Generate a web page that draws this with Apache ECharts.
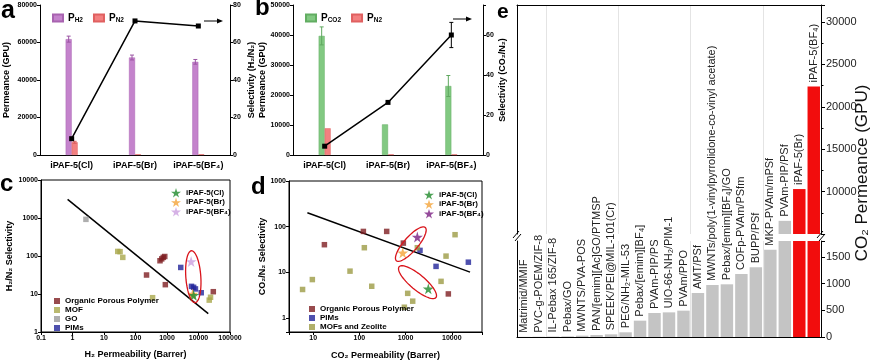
<!DOCTYPE html>
<html><head><meta charset="utf-8">
<script src="https://cdn.jsdelivr.net/npm/echarts@6/dist/echarts.min.js"></script>
<style>html,body{margin:0;padding:0;background:#fff}#c{width:880px;height:361px}</style>
</head><body><div id="c"></div>
<script>
// ---------- data ----------
const abCats = ['iPAF-5(Cl)', 'iPAF-5(Br)', 'iPAF-5(BF₄)'];
const aPH2 = [61800, 52000, 49700];
const aPH2Err = [1600, 1300, 1250];
const aPN2 = [6800, 400, 400];
const aPN2Err = [500, 0, 0];
const aSel = [8.7, 71.5, 68.8];

const bPCO2 = [39700, 10200, 23000];
const bPCO2Err = [3000, 0, 3500];
const bPN2 = [8900, 200, 200];
const bSel = [4.4, 26.3, 60];
const bSelErr = [0, 0, 6.3];

const cOPP = [[224, 31.6], [600, 75], [680, 84], [760, 92], [850, 97], [885, 17.6], [29500, 11.5]];
const cMOF = [[27.3, 132], [32.4, 130], [39.5, 92], [349, 8], [21900, 6.9], [24100, 8.2]];
const cGO = [[2.67, 922]];
const cPIM = [[2730, 50], [6000, 15.9], [7000, 15], [8000, 13.6], [12200, 10.8]];
const cStarCl = [[7000, 9.2]];
const cStarBr = [[6500, 10]];
const cStarBF4 = [[5830, 72]];
const cFit = [[0.7, 3100], [20400, 3.03]];
const cEllipse = [[6840, 28.5]];

const dOPP = [[17.5, 40.5], [122, 79], [390, 79], [894, 43.9], [8410, 3.4]];
const dPIM = [[2050, 30.4], [4560, 13.6], [22800, 16.8]];
const dMOF = [[5.9, 4.25], [9.6, 7.0], [62.7, 10.7], [128, 34.8], [185, 5.0], [1110, 3.5], [940, 1.74], [1425, 2.36], [1795, 34.8], [5850, 6.4], [7500, 22.8], [11750, 67]];
const dStarCl = [[3100, 4.4]];
const dStarBr = [[867, 27]];
const dStarBF4 = [[1795, 59.4]];
const dFit = [[7.5, 203], [24800, 10.2]];
const dEllipse = [[1297, 41.7], [1811, 6.14]];

const eCats = ['Matrimid/MMIF', 'PVC-g-POEM/ZIF-8', 'IL-Pebax 165/ZIF-8', 'Pebax/GO', 'MWNTS/PVA-POS',
  'PAN/[emim][Ac]GO/PTMSP', 'SPEEK/PEI@MIL-101(Cr)', 'PEG/NH₂-MIL-53', 'Pebax/[emim][BF₄]', 'PVAm-PIP/PS',
  'UIO-66-NH₂/PIM-1', 'PVAm/PPO', 'AMT/PSf', 'MWNTs/poly(1-vinylpyrrolidone-co-vinyl acetate)',
  'Pebax/[emim][BF₄]/GO', 'COFp-PVAm/PSfm', 'BUPP/PSf', 'MKP-PVAm/mPSf', 'PVAm-PIP/PSf', 'iPAF-5(Br)', 'iPAF-5(BF₄)'];
const eVals = [3, 5, 8, 12, 25, 37, 50, 88, 306, 450, 462, 494, 825, 975, 988, 1181, 1306, 1637, 6550, 10300, 22400];
const eLowMax = 1800, eHighMin = 5000, eHighMax = 32000;

// ---------- helpers ----------
const FONT = '"Liberation Sans", Arial, "DejaVu Sans", sans-serif';
const STAR = 'path://M50,0 L61,35 L98,35 L68,57 L79,91 L50,70 L21,91 L32,57 L2,35 L39,35 Z';
const axLine = {show: true, onZero: false, lineStyle: {color: '#000', width: 1}};
const tick = {show: true, length: 3, lineStyle: {color: '#000'}};
const lbl = {fontSize: 7, fontWeight: 'bold', color: '#000', fontFamily: FONT, margin: 3};
const nameStyle = {fontSize: 9, fontWeight: 'bold', color: '#000', fontFamily: FONT};
const plain = v => String(v);
const logLbl = v => { const l = Math.log10(v); return Math.abs(l - Math.round(l)) < 1e-6 ? String(+v.toPrecision(3)) : ''; };
const tup = (vals, errs) => vals.map((v, i) => [i, v, errs[i]]);

function errRender(offset, color) {
  return function (params, api) {
    const x = api.value(0), v = api.value(1), e = api.value(2);
    if (!e) return null;
    const c = api.coord([x, v]), hi = api.coord([x, v + e]), lo = api.coord([x, v - e]);
    const cx = c[0] + offset, st = {stroke: color, lineWidth: 1};
    return {type: 'group', children: [
      {type: 'line', shape: {x1: cx, y1: hi[1], x2: cx, y2: lo[1]}, style: st},
      {type: 'line', shape: {x1: cx - 2, y1: hi[1], x2: cx + 2, y2: hi[1]}, style: st},
      {type: 'line', shape: {x1: cx - 2, y1: lo[1], x2: cx + 2, y2: lo[1]}, style: st}
    ]};
  };
}
function ellipseRender(shapes) {
  return function (params, api) {
    const s = shapes[params.dataIndex];
    const c = api.coord([api.value(0), api.value(1)]);
    const a = s.ang * Math.PI / 180, pts = [];
    for (let i = 0; i < 60; i++) {
      const t = i / 60 * 2 * Math.PI, x = s.rx * Math.cos(t), y = s.ry * Math.sin(t);
      pts.push([c[0] + x * Math.cos(a) - y * Math.sin(a), c[1] + x * Math.sin(a) + y * Math.cos(a)]);
    }
    return {type: 'polygon', shape: {points: pts}, style: {fill: 'none', stroke: '#d9141b', lineWidth: 1.3}};
  };
}
const sq = (name, data, color, x, y) => ({type: 'scatter', name, data, xAxisIndex: x, yAxisIndex: y,
  symbol: 'rect', symbolSize: 5.5, itemStyle: {color}, z: 3});
const star = (name, data, color, x, y) => ({type: 'scatter', name, data, xAxisIndex: x, yAxisIndex: y,
  symbol: STAR, symbolSize: 11, itemStyle: {color}, z: 5});

const eUpper = eVals.map(v => v > eHighMin ? v : '-');
const eLower = eVals.map(v => v > eLowMax ? {value: v, label: {show: false}} : v);
const eColor = p => p.name.indexOf('iPAF') === 0 ? '#f20d0d' : '#c4c4c4';
const eLabel = {show: true, position: 'top', rotate: 90, align: 'left', verticalAlign: 'middle', distance: 4,
  formatter: '{b}', fontSize: 11, color: '#222', fontFamily: FONT};
const eSplit = {show: true, interval: (i) => i % 5 === 2, lineStyle: {color: '#e4e4e4', width: 1}};

const legRich = {m: {fontSize: 10, fontWeight: 'bold', fontFamily: FONT, color: '#000', lineHeight: 12},
  s: {fontSize: 6.5, fontWeight: 'bold', fontFamily: FONT, color: '#000', verticalAlign: 'bottom', lineHeight: 8}};
const smallLeg = {fontSize: 8, fontWeight: 'bold', fontFamily: FONT, color: '#000'};
const strip = n => n.replace(/^d:/, '');
const catLabel = {fontSize: 9, fontWeight: 'bold', color: '#000', fontFamily: FONT, margin: 6, interval: 0};

const option = {
  animation: false,
  backgroundColor: '#fff',
  grid: [
    {left: 40, top: 5, width: 190, height: 150},
    {left: 293, top: 5, width: 190, height: 150},
    {left: 41, top: 180, width: 189, height: 152, show: true, borderColor: '#000', borderWidth: 1},
    {left: 289, top: 181, width: 193, height: 151, show: true, borderColor: '#000', borderWidth: 1},
    {left: 517, top: 5, width: 304, height: 229},
    {left: 517, top: 241, width: 304, height: 96}
  ],
  legend: [
    {data: ['P_H2', 'P_N2'], left: 47, top: 8, itemWidth: 10, itemHeight: 7, itemGap: 10, icon: 'rect',
      formatter: n => n === 'P_H2' ? '{m|P}{s|H2}' : '{m|P}{s|N2}', textStyle: {rich: legRich}},
    {data: ['P_CO2', 'b:P_N2'], left: 300, top: 8, itemWidth: 10, itemHeight: 7, itemGap: 10, icon: 'rect',
      formatter: n => n === 'P_CO2' ? '{m|P}{s|CO2}' : '{m|P}{s|N2}', textStyle: {rich: legRich}},
    {data: ['iPAF-5(Cl)', 'iPAF-5(Br)', 'iPAF-5(BF₄)'], orient: 'vertical', left: 166, top: 183,
      itemWidth: 10, itemHeight: 10, itemGap: 0, textStyle: smallLeg},
    {data: ['Organic Porous Polymer', 'MOF', 'GO', 'PIMs'], orient: 'vertical', left: 49, top: 292,
      itemWidth: 6, itemHeight: 6, itemGap: 1, textStyle: smallLeg},
    {data: ['d:iPAF-5(Cl)', 'd:iPAF-5(Br)', 'd:iPAF-5(BF₄)'], orient: 'vertical', left: 419, top: 185,
      itemWidth: 10, itemHeight: 10, itemGap: 0, formatter: strip, textStyle: smallLeg},
    {data: ['d:Organic Porous Polymer', 'd:PIMs', 'MOFs and Zeolite'], orient: 'vertical', left: 304, top: 300,
      itemWidth: 6, itemHeight: 6, itemGap: 1, formatter: strip, textStyle: smallLeg}
  ],
  xAxis: [
    {type: 'category', gridIndex: 0, data: abCats, axisLine: axLine, axisTick: {show: false}, axisLabel: catLabel},
    {type: 'category', gridIndex: 1, data: abCats, axisLine: axLine, axisTick: {show: false}, axisLabel: catLabel},
    {type: 'log', gridIndex: 2, min: 0.1, max: 100000, axisLine: axLine, axisTick: tick, splitLine: {show: false},
      axisLabel: Object.assign({}, lbl, {formatter: logLbl}), name: 'H₂ Permeability (Barrer)', nameLocation: 'middle',
      nameGap: 18, nameTextStyle: nameStyle},
    {type: 'log', gridIndex: 3, min: 3, max: 45000, axisLine: axLine, axisTick: tick, splitLine: {show: false},
      axisLabel: Object.assign({}, lbl, {formatter: logLbl}), name: 'CO₂ Permeability (Barrer)', nameLocation: 'middle',
      nameGap: 19, nameTextStyle: nameStyle},
    {type: 'category', gridIndex: 4, data: eCats, position: 'top', axisLine: axLine, axisTick: {show: false},
      axisLabel: {show: false}, splitLine: eSplit},
    {type: 'category', gridIndex: 5, data: eCats, position: 'bottom', axisLine: axLine, axisTick: {show: false},
      axisLabel: {show: false}, splitLine: eSplit}
  ],
  yAxis: [
    {type: 'value', gridIndex: 0, min: 0, max: 80000, interval: 20000, axisLine: axLine, axisTick: tick,
      splitLine: {show: false}, axisLabel: Object.assign({}, lbl, {formatter: plain}),
      name: 'Permeance (GPU)', nameLocation: 'middle', nameGap: 29, nameRotate: 90, nameTextStyle: nameStyle},
    {type: 'value', gridIndex: 0, position: 'right', min: 0, max: 80, interval: 20, axisLine: axLine, axisTick: tick,
      splitLine: {show: false}, axisLabel: Object.assign({}, lbl, {formatter: plain}),
      name: 'Selectivity (H₂/N₂)', nameLocation: 'middle', nameGap: 17, nameRotate: 90, nameTextStyle: nameStyle},
    {type: 'value', gridIndex: 1, min: 0, max: 50000, interval: 10000, axisLine: axLine, axisTick: tick,
      splitLine: {show: false}, axisLabel: Object.assign({}, lbl, {formatter: plain}),
      name: 'Permeance (GPU)', nameLocation: 'middle', nameGap: 24, nameRotate: 90, nameTextStyle: nameStyle},
    {type: 'value', gridIndex: 1, position: 'right', min: 0, max: 75, interval: 20, axisLine: axLine, axisTick: tick,
      splitLine: {show: false}, axisLabel: Object.assign({}, lbl, {formatter: v => v % 20 === 0 ? String(v) : ''}),
      name: 'Selectivity (CO₂/N₂)', nameLocation: 'middle', nameGap: 12, nameRotate: 90, nameTextStyle: nameStyle},
    {type: 'log', gridIndex: 2, min: 1, max: 10000, axisLine: axLine, axisTick: tick, splitLine: {show: false},
      axisLabel: Object.assign({}, lbl, {formatter: logLbl}), name: 'H₂/N₂ Selectivity', nameLocation: 'middle',
      nameGap: 27, nameRotate: 90, nameTextStyle: nameStyle},
    {type: 'log', gridIndex: 3, min: 0.5, max: 1000, axisLine: axLine, axisTick: tick, splitLine: {show: false},
      axisLabel: Object.assign({}, lbl, {formatter: logLbl}), name: 'CO₂/N₂ Selectivity', nameLocation: 'middle',
      nameGap: 18, nameRotate: 90, nameTextStyle: nameStyle},
    {type: 'value', gridIndex: 4, position: 'right', min: eHighMin, max: eHighMax, interval: 5000,
      axisLine: axLine, axisTick: {show: true, length: 4, lineStyle: {color: '#000'}},
      minorTick: {show: true, splitNumber: 2, length: 2.5, lineStyle: {color: '#000'}}, splitLine: {show: false},
      axisLabel: {fontSize: 11, color: '#222', fontFamily: FONT, margin: 5,
        formatter: v => (v % 5000 === 0 && v > eHighMin) ? String(v) : ''}},
    {type: 'value', gridIndex: 5, position: 'right', min: 0, max: eLowMax, interval: 500,
      axisLine: axLine, axisTick: {show: true, length: 4, lineStyle: {color: '#000'}}, splitLine: {show: false},
      axisLabel: {fontSize: 11, color: '#222', fontFamily: FONT, margin: 5,
        formatter: v => v % 500 === 0 ? String(v) : ''}},
    {type: 'value', gridIndex: 4, position: 'left', min: 0, max: 1, axisLine: axLine, axisTick: {show: false},
      axisLabel: {show: false}, splitLine: {show: false}},
    {type: 'value', gridIndex: 5, position: 'left', min: 0, max: 1, axisLine: axLine, axisTick: {show: false},
      axisLabel: {show: false}, splitLine: {show: false}}
  ],
  series: [
    // panel a
    {type: 'bar', name: 'P_H2', data: aPH2, xAxisIndex: 0, yAxisIndex: 0, barWidth: 6, barGap: '0%',
      itemStyle: {color: '#c483cc', borderColor: '#a863b0', borderWidth: 0.5}},
    {type: 'bar', name: 'P_N2', data: aPN2, xAxisIndex: 0, yAxisIndex: 0, barWidth: 6, barGap: '0%',
      itemStyle: {color: '#f38080', borderColor: '#e06060', borderWidth: 0.5}},
    {type: 'custom', data: tup(aPH2, aPH2Err), xAxisIndex: 0, yAxisIndex: 0, renderItem: errRender(-3, '#9b55a3'), z: 4},
    {type: 'custom', data: tup(aPN2, aPN2Err), xAxisIndex: 0, yAxisIndex: 0, renderItem: errRender(3, '#d85a5a'), z: 4},
    {type: 'line', name: 'aSel', data: aSel, xAxisIndex: 0, yAxisIndex: 1, symbol: 'rect', symbolSize: 5,
      lineStyle: {color: '#000', width: 1.5}, itemStyle: {color: '#000'}, z: 5},
    // panel b
    {type: 'bar', name: 'P_CO2', data: bPCO2, xAxisIndex: 1, yAxisIndex: 2, barWidth: 6, barGap: '0%',
      itemStyle: {color: '#82c982', borderColor: '#62ad62', borderWidth: 0.5}},
    {type: 'bar', name: 'b:P_N2', data: bPN2, xAxisIndex: 1, yAxisIndex: 2, barWidth: 6, barGap: '0%',
      itemStyle: {color: '#f38080', borderColor: '#e06060', borderWidth: 0.5}},
    {type: 'custom', data: tup(bPCO2, bPCO2Err), xAxisIndex: 1, yAxisIndex: 2, renderItem: errRender(-3, '#5fa85f'), z: 4},
    {type: 'custom', data: tup(bSel, bSelErr), xAxisIndex: 1, yAxisIndex: 3, renderItem: errRender(0, '#000'), z: 6},
    {type: 'line', name: 'bSel', data: bSel, xAxisIndex: 1, yAxisIndex: 3, symbol: 'rect', symbolSize: 5,
      lineStyle: {color: '#000', width: 1.5}, itemStyle: {color: '#000'}, z: 5},
    // panel c
    {type: 'line', data: cFit, xAxisIndex: 2, yAxisIndex: 4, symbol: 'none', lineStyle: {color: '#000', width: 1.5}, z: 2},
    sq('Organic Porous Polymer', cOPP, '#7e1e22', 2, 4),
    sq('MOF', cMOF, '#a9a84b', 2, 4),
    sq('GO', cGO, '#9a9a9a', 2, 4),
    sq('PIMs', cPIM, '#22249a', 2, 4),
    star('iPAF-5(BF₄)', cStarBF4, '#cc9fe0', 2, 4),
    star('iPAF-5(Br)', cStarBr, '#f4a43a', 2, 4),
    star('iPAF-5(Cl)', cStarCl, '#1f8a2a', 2, 4),
    {type: 'custom', data: cEllipse, xAxisIndex: 2, yAxisIndex: 4, z: 6,
      renderItem: ellipseRender([{rx: 26, ry: 7.5, ang: 86}])},
    // panel d
    {type: 'line', data: dFit, xAxisIndex: 3, yAxisIndex: 5, symbol: 'none', lineStyle: {color: '#000', width: 1.5}, z: 2},
    sq('d:Organic Porous Polymer', dOPP, '#7e1e22', 3, 5),
    sq('d:PIMs', dPIM, '#22249a', 3, 5),
    sq('MOFs and Zeolite', dMOF, '#9c9b45', 3, 5),
    star('d:iPAF-5(Cl)', dStarCl, '#1f8a2a', 3, 5),
    star('d:iPAF-5(Br)', dStarBr, '#f4a43a', 3, 5),
    star('d:iPAF-5(BF₄)', dStarBF4, '#7a1f82', 3, 5),
    {type: 'custom', data: dEllipse, xAxisIndex: 3, yAxisIndex: 5, z: 6,
      renderItem: ellipseRender([{rx: 22, ry: 7, ang: -49}, {rx: 24, ry: 7.5, ang: 40}])},
    // panel e
    {type: 'bar', data: eUpper, xAxisIndex: 4, yAxisIndex: 6, barCategoryGap: '14%',
      itemStyle: {color: eColor}, label: eLabel},
    {type: 'bar', data: eLower, xAxisIndex: 5, yAxisIndex: 7, barCategoryGap: '14%',
      itemStyle: {color: eColor}, label: eLabel}
  ],
  graphic: [
    {type: 'text', left: 1, top: -1, style: {text: 'a', font: 'bold 25px ' + FONT, fill: '#000'}},
    {type: 'text', left: 255, top: -4, style: {text: 'b', font: 'bold 24px ' + FONT, fill: '#000'}},
    {type: 'text', left: 0, top: 172, style: {text: 'c', font: 'bold 24px ' + FONT, fill: '#000'}},
    {type: 'text', left: 251, top: 175, style: {text: 'd', font: 'bold 24px ' + FONT, fill: '#000'}},
    {type: 'text', left: 497, top: 2, style: {text: 'e', font: 'bold 21px ' + FONT, fill: '#000'}},
    {type: 'text', x: 862, y: 173, rotation: Math.PI / 2,
      style: {text: 'CO₂ Permeance (GPU)', font: '17px ' + FONT, fill: '#111', align: 'center', verticalAlign: 'middle'}},
    // right-pointing arrows (a, b)
    {type: 'line', shape: {x1: 204, y1: 21, x2: 219, y2: 21}, style: {stroke: '#000', lineWidth: 1}},
    {type: 'polygon', shape: {points: [[223, 21], [217, 18.5], [217, 23.5]]}, style: {fill: '#000'}},
    {type: 'line', shape: {x1: 453, y1: 19, x2: 468, y2: 19}, style: {stroke: '#000', lineWidth: 1}},
    {type: 'polygon', shape: {points: [[472, 19], [466, 16.5], [466, 21.5]]}, style: {fill: '#000'}},
    // axis break marks
    {type: 'line', shape: {x1: 513, y1: 238, x2: 519, y2: 231}, style: {stroke: '#000', lineWidth: 1}},
    {type: 'line', shape: {x1: 515, y1: 241, x2: 521, y2: 234}, style: {stroke: '#000', lineWidth: 1}},
    {type: 'line', shape: {x1: 817, y1: 238, x2: 823, y2: 231}, style: {stroke: '#000', lineWidth: 1}},
    {type: 'line', shape: {x1: 819, y1: 241, x2: 825, y2: 234}, style: {stroke: '#000', lineWidth: 1}}
  ]
};
const chart = echarts.init(document.getElementById('c'), null, {renderer: 'canvas'});
chart.setOption(option);
</script></body></html>
